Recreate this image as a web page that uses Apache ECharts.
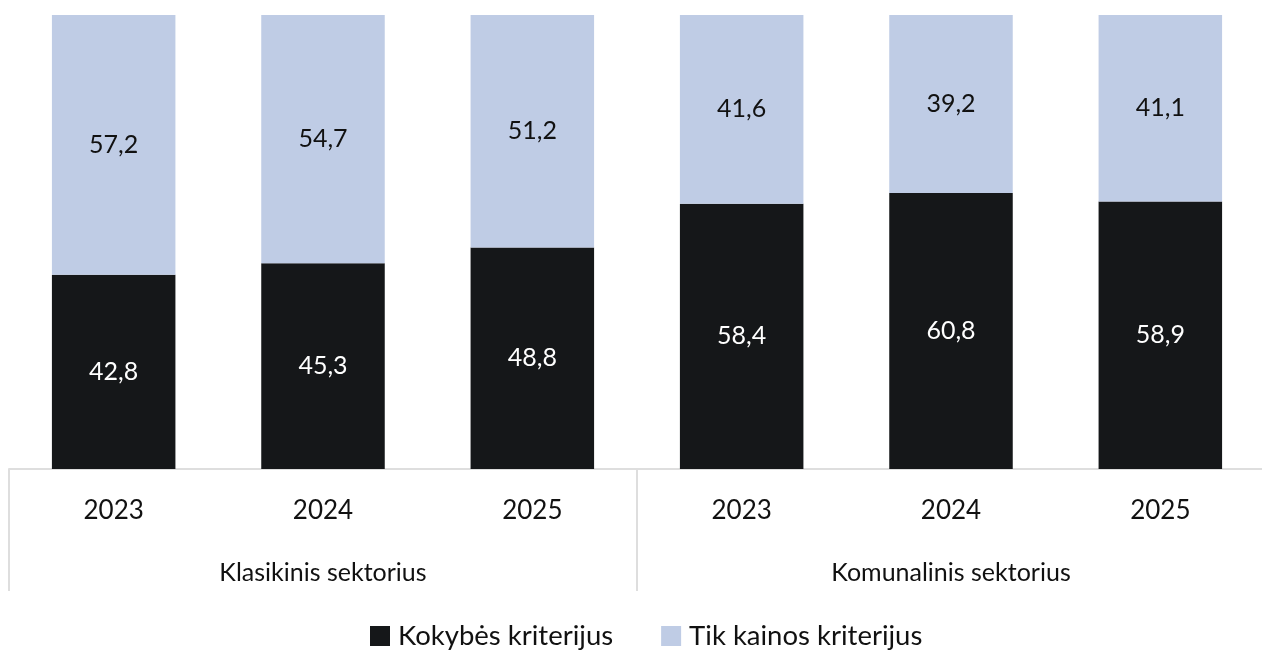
<!DOCTYPE html>
<html>
<head>
<meta charset="utf-8">
<script src="https://cdn.jsdelivr.net/npm/echarts@6/dist/echarts.min.js"></script>
<style>
  html, body { margin: 0; padding: 0; background: #fff; }
  #main { width: 1262px; height: 651px; }
</style>
</head>
<body>
<div id="main"></div>
<script>
var myChart = echarts.init(document.getElementById('main'));

var years = ['2023', '2024', '2025', '2023', '2024', '2025'];
var sectors = ['Klasikinis sektorius', 'Komunalinis sektorius'];
var quality = [42.8, 45.3, 48.8, 58.4, 60.8, 58.9];
var priceOnly = [57.2, 54.7, 51.2, 41.6, 39.2, 41.1];

var fontName = 'Lato, "Noto Sans", sans-serif';
var lineColor = '#dedede';

function fmt(p) {
  return p.value.toFixed(1).replace('.', ',');
}

var option = {
  animation: false,
  textStyle: { fontFamily: fontName },
  grid: { left: 9, top: 15, width: 1256, bottom: 182, outerBoundsMode: 'none', containLabel: false },
  legend: {
    bottom: -4,
    left: 365,
    itemWidth: 20,
    itemHeight: 20,
    itemGap: 48,
    icon: 'rect',
    textStyle: { fontSize: 27.5, color: '#111', fontFamily: fontName, padding: [0, 0, 0, 3] },
    data: ['Kokybės kriterijus', 'Tik kainos kriterijus']
  },
  xAxis: [
    {
      type: 'category',
      data: years,
      position: 'bottom',
      axisLine: { show: true, lineStyle: { color: lineColor, width: 2 } },
      axisTick: { show: false },
      axisLabel: { fontSize: 26, color: '#111', margin: 29 }
    },
    {
      type: 'category',
      data: sectors,
      position: 'bottom',
      axisLine: { show: false },
      axisTick: { show: true, length: 122, lineStyle: { color: lineColor, width: 2 } },
      axisLabel: { fontSize: 25, color: '#111', margin: 91 }
    }
  ],
  yAxis: { type: 'value', min: 0, max: 100, show: false },
  series: [
    {
      name: 'Kokybės kriterijus',
      type: 'bar',
      stack: 'total',
      barWidth: '59%',
      data: quality,
      itemStyle: { color: '#151719' },
      label: { show: true, position: 'inside', color: '#fff', fontSize: 25, formatter: fmt }
    },
    {
      name: 'Tik kainos kriterijus',
      type: 'bar',
      stack: 'total',
      barWidth: '59%',
      data: priceOnly,
      itemStyle: { color: '#bfcce5' },
      label: { show: true, position: 'inside', color: '#111', fontSize: 25, formatter: fmt }
    }
  ]
};
myChart.setOption(option);
</script>
</body>
</html>
